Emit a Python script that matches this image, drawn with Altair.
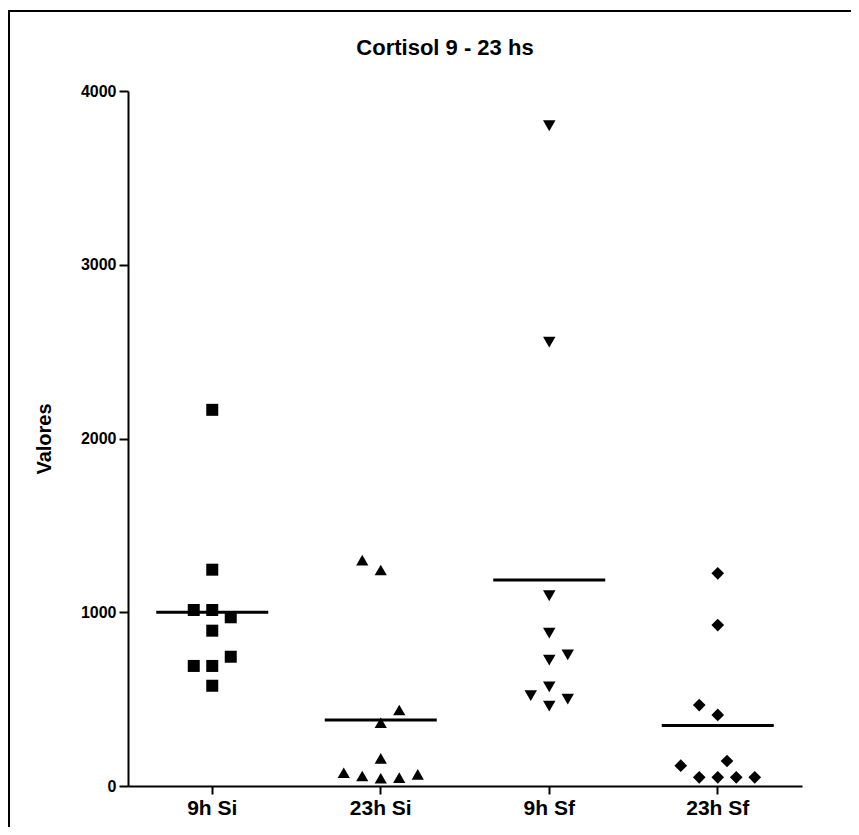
import altair as alt
import pandas as pd

categories = ["9h Si", "23h Si", "9h Sf", "23h Sf"]
shapes = ["square", "triangle-up", "triangle-down", "diamond"]
marker_sizes = [144, 161, 140, 240]

v_9h_si = [2165, 1245, 1013, 1013, 971, 894, 744, 691, 691, 577]
c_9h_si = [0, 0, -1, 0, 1, 0, 1, -1, 0, 0]

v_23h_si = [1300, 1243, 437, 364, 159, 76, 58, 45, 48, 67]
c_23h_si = [-1, 0, 1, 0, 0, -2, -1, 0, 1, 2]

v_9h_sf = [3800, 2555, 1095, 880, 755, 725, 570, 520, 500, 460]
c_9h_sf = [0, 0, 0, 0, 1, 0, 0, -1, 1, 0]

v_23h_sf = [1224, 926, 466, 409, 144, 117, 50, 50, 50, 50]
c_23h_sf = [0, 0, -1, 0, 0.5, -2, -1, 0, 1, 2]

rows = []
for g, vals, cols in zip(categories,
                         [v_9h_si, v_23h_si, v_9h_sf, v_23h_sf],
                         [c_9h_si, c_23h_si, c_9h_sf, c_23h_sf]):
    for v, c in zip(vals, cols):
        rows.append({"group": g, "value": v, "col": c})
df = pd.DataFrame(rows)

FONT = "Liberation Sans"

x_enc = alt.X(
    "group:N", sort=categories,
    scale=alt.Scale(domain=categories, paddingInner=0, paddingOuter=0),
    axis=alt.Axis(title=None, labelAngle=0, labelAlign="center", labelBaseline="top",
                  tickSize=8, tickWidth=2, domainWidth=2,
                  domainColor="black", tickColor="black", labelColor="black",
                  labelFont=FONT, labelFontSize=21, labelFontWeight="bold",
                  labelPadding=3),
)
y_enc = alt.Y(
    "value:Q",
    scale=alt.Scale(domain=[0, 4000], nice=False, zero=True),
    axis=alt.Axis(values=[0, 1000, 2000, 3000, 4000], format="d", title="Valores",
                  grid=False, tickSize=9, tickWidth=2, domainWidth=2, domainColor="black",
                  tickColor="black", labelColor="black", labelFont=FONT,
                  labelFontSize=16, labelFontWeight="bold", labelPadding=3,
                  titleFont=FONT, titleFontSize=20, titleFontWeight="bold",
                  titleColor="black", titlePadding=26),
)

points = alt.Chart(df).mark_point(filled=True, opacity=1, color="black", strokeWidth=0).encode(
    x=x_enc,
    xOffset=alt.XOffset("col:Q", scale=alt.Scale(domain=[-4.555, 4.555], range=[0, 168.5])),
    y=y_enc,
    shape=alt.Shape("group:N", scale=alt.Scale(domain=categories, range=shapes), legend=None),
    size=alt.Size("group:O", scale=alt.Scale(domain=categories, range=marker_sizes), legend=None),
)

means = alt.Chart(df).mark_tick(color="black", size=112, thickness=3).encode(
    x=alt.X("group:N", sort=categories),
    y=alt.Y("mean(value):Q"),
)

frame = alt.Chart(pd.DataFrame({"a": [0]})).mark_rect(
    filled=False, stroke="black", strokeWidth=2, fill=None
).encode(
    x=alt.value(-119), x2=alt.value(760), y=alt.value(-80), y2=alt.value(790)
)

chart = alt.layer(frame, means, points).properties(
    width=674,
    height=695,
    title=alt.TitleParams("Cortisol 9 - 23 hs", font=FONT, fontSize=22, fontWeight="bold",
                          color="black", offset=0, dy=50, dx=-20, anchor="middle"),
    autosize=alt.AutoSizeParams(type="none"),
    padding={"left": 120, "top": 83, "right": 49, "bottom": 41},
).configure(background="white").configure_view(stroke=None)

chart.save("out.html", embed_options={"renderer": "svg", "actions": False})
